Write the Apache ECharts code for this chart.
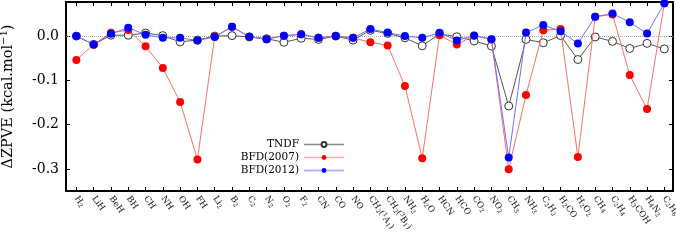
<!DOCTYPE html>
<html><head><meta charset="utf-8">
<script src="https://cdn.jsdelivr.net/npm/echarts@6/dist/echarts.min.js"></script>
<style>html,body{margin:0;padding:0;background:#fff}#c{width:676px;height:242px}</style>
</head><body><div id="c"></div>
<script>
const categories = ['H{b|2}','LiH','BeH','BH','CH','NH','OH','FH','Li{b|2}','B{b|2}','C{b|2}','N{b|2}','O{b|2}','F{b|2}','CN','CO','NO',
  'CH{b|2}({p|1}A{b|1})','CH{b|2}({p|3}B{b|1})','NH{b|2}','H{b|2}O','HCN','HCO','CO{b|2}','NO{b|2}','CH{b|3}','NH{b|3}','C{b|2}H{b|2}','H{b|2}CO','H{b|2}O{b|2}','CH{b|4}','C{b|2}H{b|4}','H{b|3}COH','H{b|4}N{b|2}','C{b|2}H{b|6}'];
const tndf = [0.0,-0.019,0.002,0.002,0.007,0.001,-0.013,-0.009,0.0,0.001,-0.002,-0.006,-0.014,-0.005,-0.0075,0.0,-0.009,0.013,0.006,-0.004,-0.022,0.005,-0.0015,-0.011,-0.0225,-0.158,-0.0075,-0.015,0.001,-0.053,-0.002,-0.012,-0.028,-0.0165,-0.029];
const bfd2007 = [-0.054,-0.019,0.0075,0.0135,-0.023,-0.072,-0.149,-0.279,-0.001,0.021,-0.0015,-0.007,0.001,0.004,-0.004,0.0,-0.004,-0.014,-0.021,-0.113,-0.276,0.002,-0.019,0.001,-0.008,-0.301,-0.133,0.013,0.016,-0.273,0.0437,0.049,-0.088,-0.165,0.074];
const bfd2012 = [0.0,-0.019,0.005,0.019,0.003,-0.004,-0.004,-0.010,-0.002,0.021,-0.0015,-0.007,0.001,0.004,-0.004,0.0,-0.004,0.016,0.008,0.0,-0.004,0.0075,-0.010,0.0015,-0.007,-0.2745,0.008,0.025,0.011,-0.0165,0.0437,0.051,0.031,0.006,0.074];
const yTickValues = [0.0,-0.1,-0.2,-0.3];
const yTickLabels = ['0.0','-0.1','-0.2','-0.3'];
const seriesNames = ['TNDF','BFD(2007)','BFD(2012)'];

const idx = categories.map((c,i)=>i);
const serif = 'DejaVu Serif';
const xBase = {
  type:'value', min:-0.6, max:34.5,
  axisLine:{show:true, onZero:false, lineStyle:{color:'#000', width:2}},
  axisTick:{show:true, inside:true, length:4, customValues:idx, lineStyle:{color:'#000', width:1}},
  splitLine:{show:false}
};
const yBase = {
  type:'value', min:-0.35, max:0.077,
  axisLine:{show:true, onZero:false, lineStyle:{color:'#000', width:2}},
  axisTick:{show:true, inside:true, length:4, customValues:yTickValues, lineStyle:{color:'#000', width:1}},
  splitLine:{show:false}
};
const pair = a => a.map((v,i)=>[i,v]);
const chart = echarts.init(document.getElementById('c'));
chart.setOption({
  animation:false,
  grid:{left:66, top:2, width:607, height:189, outerBoundsMode:'none', containLabel:false},
  xAxis:[
    Object.assign({}, xBase, {position:'bottom',
      axisLabel:{show:true, customValues:idx, formatter:v=>categories[Math.round(v)], rotate:-55, margin:6,
        fontSize:8.5, fontFamily:serif, color:'#111', lineHeight:10,
        rich:{b:{fontSize:6, fontFamily:serif, color:'#111', verticalAlign:'bottom', lineHeight:10, padding:[3,0,0,0]},
              p:{fontSize:6, fontFamily:serif, color:'#111', verticalAlign:'top', lineHeight:10, padding:[0,0,3,0]}}}}),
    Object.assign({}, xBase, {position:'top', axisLabel:{show:false}})
  ],
  yAxis:[
    Object.assign({}, yBase, {position:'left',
      axisLabel:{show:true, customValues:yTickValues, formatter:v=>yTickLabels[yTickValues.findIndex(t=>Math.abs(t-v)<1e-9)], fontSize:14, fontFamily:serif, color:'#000', margin:7},
      name:'ΔZPVE (kcal.mol{s|−1})', nameLocation:'middle', nameRotate:90, nameGap:49,
      nameTextStyle:{fontSize:14.5, fontFamily:serif, color:'#000', rich:{s:{fontSize:10, fontFamily:serif, verticalAlign:'top', padding:[0,0,8,0]}}}}),
    Object.assign({}, yBase, {position:'right', axisLabel:{show:false}})
  ],
  legend:{
    orient:'vertical', right:331, top:139, align:'right', padding:0,
    itemWidth:40, itemHeight:6, itemGap:2,
    textStyle:{fontSize:10.5, fontFamily:serif, color:'#000'},
    data:[
      {name:seriesNames[0], lineStyle:{color:'#888', width:1.5}},
      {name:seriesNames[1], lineStyle:{color:'#ffb0b0', width:1.5}},
      {name:seriesNames[2], lineStyle:{color:'#b4b4ff', width:2}}
    ]
  },
  series:[
    {name:seriesNames[0], type:'line', data:pair(tndf), symbol:'circle', symbolSize:8,
     itemStyle:{color:'#fff', borderColor:'#333', borderWidth:1},
     lineStyle:{color:'#555', width:1}, z:2,
     markLine:{silent:true, symbol:'none', label:{show:false}, lineStyle:{color:'#aaa', type:'dotted', width:1}, data:[{yAxis:0}], z:1}},
    {name:seriesNames[1], type:'line', data:pair(bfd2007), symbol:'circle', symbolSize:8,
     itemStyle:{color:'#ff0000'}, lineStyle:{color:'#ff6a6a', width:1}, z:3},
    {name:seriesNames[2], type:'line', data:pair(bfd2012), symbol:'circle', symbolSize:8,
     itemStyle:{color:'#0000ff'}, lineStyle:{color:'#6f6fff', width:1}, z:4}
  ]
});
</script></body></html>
